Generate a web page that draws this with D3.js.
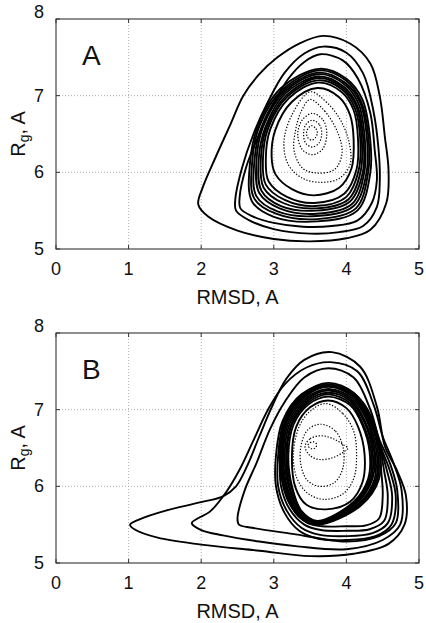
<!DOCTYPE html>
<html>
<head>
<meta charset="utf-8">
<script src="https://cdn.jsdelivr.net/npm/d3@7"></script>
<style>
  body { margin: 0; background: #fff; }
  text { font-family: "Liberation Sans", Arial, sans-serif; fill: #111; }
</style>
</head>
<body>
<div id="chart"></div>
<script>
// axis ticks
const xTicks = [0, 1, 2, 3, 4, 5];
const yTicks = [5, 6, 7, 8];
const gridX = [1, 2, 3, 4];
const gridY = [6, 7];

// panel A : contours, [RMSD, Rg]
const aOuter = [
  [[3.68,7.78],[4.05,7.68],[4.33,7.42],[4.46,6.99],[4.53,6.46],[4.58,6.03],[4.55,5.6],[4.33,5.25],[4.0,5.14],[3.5,5.1],[3.0,5.13],[2.5,5.24],[2.1,5.42],[1.96,5.58],[2.02,5.8],[2.2,6.2],[2.4,6.62],[2.58,7.0],[2.8,7.28],[3.05,7.5],[3.35,7.68]],
  [[3.68,7.64],[4.0,7.56],[4.23,7.29],[4.37,6.81],[4.44,6.33],[4.46,5.9],[4.42,5.55],[4.23,5.3],[3.9,5.22],[3.5,5.2],[3.0,5.26],[2.65,5.38],[2.48,5.5],[2.47,5.65],[2.56,6.05],[2.72,6.5],[2.92,6.92],[3.15,7.3],[3.42,7.55]],
  [[3.64,7.54],[3.95,7.46],[4.16,7.22],[4.33,6.77],[4.39,6.29],[4.42,5.9],[4.35,5.6],[4.15,5.37],[3.8,5.3],[3.4,5.29],[3.0,5.34],[2.7,5.43],[2.54,5.53],[2.53,5.68],[2.62,6.07],[2.8,6.5],[3.0,6.9],[3.2,7.22],[3.42,7.44]]
];
const aBundle = [
  [[3.63,7.35],[4.0,7.22],[4.22,6.95],[4.32,6.5],[4.33,6.0],[4.15,5.5],[3.6,5.36],[3.0,5.42],[2.7,5.62],[2.67,6.1],[2.78,6.6],[3.1,7.1]],
  [[3.63,7.33],[3.99,7.2],[4.2,6.93],[4.3,6.49],[4.3,6.0],[4.13,5.53],[3.6,5.39],[3.03,5.46],[2.73,5.66],[2.7,6.11],[2.8,6.6],[3.12,7.08]],
  [[3.62,7.3],[3.98,7.17],[4.19,6.91],[4.28,6.48],[4.28,6.01],[4.1,5.56],[3.59,5.43],[3.05,5.49],[2.76,5.69],[2.73,6.12],[2.83,6.59],[3.13,7.06]],
  [[3.62,7.28],[3.97,7.15],[4.17,6.89],[4.25,6.48],[4.25,6.02],[4.08,5.59],[3.59,5.46],[3.08,5.53],[2.8,5.73],[2.76,6.13],[2.85,6.59],[3.15,7.05]],
  [[3.62,7.25],[3.96,7.12],[4.15,6.87],[4.23,6.47],[4.23,6.02],[4.05,5.62],[3.58,5.5],[3.1,5.56],[2.83,5.76],[2.79,6.14],[2.88,6.58],[3.16,7.03]],
  [[3.62,7.23],[3.95,7.1],[4.14,6.85],[4.21,6.46],[4.2,6.03],[4.03,5.65],[3.58,5.53],[3.13,5.6],[2.86,5.8],[2.82,6.15],[2.9,6.58],[3.18,7.01]],
  [[3.61,7.2],[3.94,7.08],[4.12,6.83],[4.19,6.45],[4.17,6.03],[4.0,5.68],[3.57,5.56],[3.15,5.64],[2.89,5.84],[2.85,6.16],[2.92,6.57],[3.19,6.99]],
  [[3.61,7.17],[3.93,7.05],[4.1,6.81],[4.16,6.44],[4.14,6.04],[3.97,5.72],[3.56,5.6],[3.18,5.68],[2.93,5.88],[2.89,6.17],[2.95,6.56],[3.21,6.97]],
  [[3.6,7.1],[3.9,6.98],[4.05,6.75],[4.1,6.42],[4.07,6.05],[3.9,5.8],[3.55,5.7],[3.25,5.78],[3.02,5.98],[2.97,6.2],[3.02,6.55],[3.25,6.92]]
];
const aDotted = [
  [[3.5,7.05],[3.72,6.92],[3.92,6.68],[4.04,6.38],[4.05,6.1],[3.9,5.92],[3.65,5.87],[3.4,5.92],[3.2,6.1],[3.14,6.4],[3.25,6.75]],
  [[3.5,6.95],[3.7,6.8],[3.88,6.52],[3.94,6.25],[3.84,6.04],[3.6,5.99],[3.4,6.05],[3.28,6.28],[3.3,6.55],[3.38,6.8]],
  [[3.53,6.77],[3.68,6.68],[3.73,6.5],[3.67,6.3],[3.53,6.23],[3.39,6.3],[3.33,6.5],[3.39,6.68]],
  [[3.53,6.68],[3.63,6.62],[3.66,6.5],[3.62,6.38],[3.53,6.33],[3.44,6.38],[3.41,6.5],[3.44,6.62]],
  [[3.52,6.61],[3.58,6.57],[3.6,6.51],[3.57,6.45],[3.52,6.42],[3.47,6.45],[3.45,6.51],[3.47,6.57]]
];

// panel B
const bOuter = [
  [[3.8,7.75],[4.19,7.56],[4.42,7.04],[4.53,6.52],[4.7,6.2],[4.82,5.88],[4.8,5.5],[4.58,5.25],[4.1,5.12],[3.5,5.09],[2.8,5.16],[2.0,5.24],[1.4,5.33],[1.08,5.44],[1.02,5.5],[1.15,5.57],[1.5,5.68],[1.98,5.79],[2.3,5.87],[2.48,6.0],[2.63,6.26],[2.8,6.65],[2.98,7.05],[3.17,7.4],[3.42,7.65]],
  [[3.78,7.62],[4.15,7.5],[4.38,7.05],[4.5,6.65],[4.65,6.3],[4.76,5.95],[4.74,5.5],[4.5,5.3],[4.0,5.18],[3.3,5.22],[2.8,5.28],[2.3,5.36],[2.0,5.43],[1.87,5.52],[1.95,5.58],[2.12,5.67],[2.34,5.92],[2.53,6.22],[2.72,6.6],[2.92,7.0],[3.15,7.33],[3.45,7.55]],
  [[3.75,7.54],[4.1,7.42],[4.33,7.0],[4.45,6.62],[4.6,6.3],[4.7,5.95],[4.68,5.52],[4.45,5.35],[4.0,5.28],[3.26,5.38],[2.7,5.46],[2.52,5.5],[2.5,5.58],[2.6,5.95],[2.76,6.3],[2.95,6.75],[3.15,7.1],[3.42,7.42]]
];
const bRings = [
  [[3.75,7.33],[4.12,7.2],[4.35,6.9],[4.48,6.5],[4.6,6.2],[4.68,5.87],[4.62,5.5],[4.4,5.35],[4.0,5.3],[3.6,5.32],[3.35,5.42],[3.15,5.65],[3.03,6.0],[3.03,6.4],[3.12,6.85],[3.38,7.2]],
  [[3.75,7.32],[4.11,7.19],[4.34,6.88],[4.47,6.5],[4.56,6.2],[4.63,5.87],[4.57,5.52],[4.36,5.39],[4.0,5.35],[3.62,5.37],[3.38,5.46],[3.18,5.68],[3.06,6.0],[3.06,6.4],[3.14,6.85],[3.39,7.19]],
  [[3.75,7.31],[4.1,7.18],[4.33,6.87],[4.46,6.5],[4.52,6.2],[4.57,5.87],[4.52,5.55],[4.32,5.44],[4.0,5.42],[3.65,5.43],[3.42,5.5],[3.22,5.7],[3.1,6.0],[3.09,6.4],[3.16,6.85],[3.4,7.18]],
  [[3.75,7.3],[4.09,7.17],[4.31,6.86],[4.45,6.5],[4.48,6.2],[4.5,5.87],[4.45,5.58],[4.27,5.49],[4.0,5.48],[3.66,5.48],[3.45,5.53],[3.25,5.72],[3.13,6.0],[3.12,6.4],[3.18,6.85],[3.41,7.17]]
];
const bBundle = [
  [[3.75,7.35],[4.1,7.22],[4.32,6.9],[4.45,6.5],[4.45,6.1],[4.2,5.75],[3.6,5.5],[3.35,5.6],[3.15,5.95],[3.08,6.4],[3.15,6.85],[3.4,7.2]],
  [[3.75,7.32],[4.09,7.2],[4.31,6.89],[4.43,6.49],[4.43,6.1],[4.19,5.76],[3.6,5.51],[3.35,5.61],[3.16,5.96],[3.1,6.4],[3.17,6.84],[3.41,7.18]],
  [[3.75,7.3],[4.09,7.17],[4.29,6.87],[4.41,6.49],[4.41,6.1],[4.17,5.76],[3.6,5.51],[3.36,5.62],[3.18,5.96],[3.11,6.4],[3.18,6.84],[3.42,7.16]],
  [[3.75,7.27],[4.08,7.15],[4.28,6.86],[4.39,6.48],[4.39,6.1],[4.16,5.77],[3.6,5.52],[3.36,5.63],[3.19,5.97],[3.13,6.4],[3.2,6.83],[3.43,7.14]],
  [[3.75,7.25],[4.07,7.13],[4.26,6.84],[4.38,6.47],[4.36,6.1],[4.14,5.78],[3.6,5.53],[3.37,5.65],[3.21,5.98],[3.15,6.4],[3.22,6.82],[3.45,7.13]],
  [[3.75,7.22],[4.06,7.11],[4.25,6.83],[4.36,6.46],[4.34,6.1],[4.13,5.79],[3.6,5.54],[3.37,5.66],[3.22,5.99],[3.17,6.4],[3.24,6.81],[3.46,7.11]],
  [[3.75,7.2],[4.06,7.08],[4.23,6.81],[4.34,6.46],[4.32,6.1],[4.11,5.79],[3.6,5.54],[3.38,5.67],[3.24,6.0],[3.18,6.4],[3.25,6.81],[3.47,7.09]],
  [[3.75,7.17],[4.05,7.06],[4.22,6.8],[4.32,6.45],[4.3,6.1],[4.1,5.8],[3.6,5.55],[3.38,5.68],[3.25,6.0],[3.2,6.4],[3.27,6.8],[3.48,7.07]],
  [[3.75,7.12],[4.0,7.02],[4.16,6.78],[4.25,6.42],[4.22,6.05],[4.05,5.8],[3.72,5.7],[3.45,5.76],[3.3,5.98],[3.25,6.4],[3.31,6.78],[3.5,7.03]]
];
const bDotted = [
  [[3.72,7.08],[3.95,6.95],[4.1,6.72],[4.14,6.42],[4.1,6.1],[3.95,5.9],[3.7,5.83],[3.48,5.9],[3.32,6.1],[3.27,6.42],[3.35,6.78],[3.5,6.98]],
  [[3.65,6.81],[3.85,6.72],[3.96,6.48],[3.94,6.2],[3.82,6.04],[3.63,6.0],[3.46,6.08],[3.37,6.3],[3.38,6.55],[3.47,6.74]],
  [[3.43,6.52],[3.5,6.62],[3.65,6.66],[3.82,6.62],[3.96,6.54],[4.02,6.5],[3.95,6.44],[3.8,6.37],[3.63,6.35],[3.5,6.4]],
  [[3.47,6.53],[3.5,6.57],[3.55,6.58],[3.59,6.55],[3.57,6.5],[3.52,6.49]]
];

const panels = [
  {label: "A", top: 19, solid: [aOuter, aBundle], dotted: aDotted},
  {label: "B", top: 333, solid: [bOuter, bRings, bBundle], dotted: bDotted}
];

const W = 426, H = 623;
const left = 56, right = 419, ph = 230;

const svg = d3.select("#chart").append("svg")
    .attr("width", W)
    .attr("height", H);

panels.forEach(p => {
    const x = d3.scaleLinear().domain([0, 5]).range([left, right]);
    const y = d3.scaleLinear().domain([5, 8]).range([p.top + ph, p.top]);
    const g = svg.append("g");

    // grille pointillée
    g.selectAll(".gx").data(gridX).enter().append("line")
        .attr("x1", d => x(d)).attr("x2", d => x(d))
        .attr("y1", p.top).attr("y2", p.top + ph)
        .attr("stroke", "#9a9a9a").attr("stroke-width", 0.8)
        .attr("stroke-dasharray", "1,2");
    g.selectAll(".gy").data(gridY).enter().append("line")
        .attr("x1", left).attr("x2", right)
        .attr("y1", d => y(d)).attr("y2", d => y(d))
        .attr("stroke", "#9a9a9a").attr("stroke-width", 0.8)
        .attr("stroke-dasharray", "1,2");

    const line = d3.line()
        .x(d => x(d[0]))
        .y(d => y(d[1]))
        .curve(d3.curveCatmullRomClosed.alpha(0.5));

    p.solid.forEach(set => {
        g.append("g").selectAll("path").data(set).enter().append("path")
            .attr("d", line)
            .attr("fill", "none")
            .attr("stroke", "#000")
            .attr("stroke-width", 1.9);
    });
    g.append("g").selectAll("path").data(p.dotted).enter().append("path")
        .attr("d", line)
        .attr("fill", "none")
        .attr("stroke", "#000")
        .attr("stroke-width", 1.2)
        .attr("stroke-dasharray", "1.3,1.7");

    // cadre
    g.append("rect")
        .attr("x", left).attr("y", p.top)
        .attr("width", right - left).attr("height", ph)
        .attr("fill", "none").attr("stroke", "#333").attr("stroke-width", 1.1);

    // petits ticks intérieurs
    g.selectAll(".tb").data(xTicks).enter().append("line")
        .attr("x1", d => x(d)).attr("x2", d => x(d))
        .attr("y1", p.top + ph).attr("y2", p.top + ph - 4)
        .attr("stroke", "#333");
    g.selectAll(".tt").data(xTicks).enter().append("line")
        .attr("x1", d => x(d)).attr("x2", d => x(d))
        .attr("y1", p.top).attr("y2", p.top + 4)
        .attr("stroke", "#333");
    g.selectAll(".tl").data(yTicks).enter().append("line")
        .attr("x1", left).attr("x2", left + 4)
        .attr("y1", d => y(d)).attr("y2", d => y(d))
        .attr("stroke", "#333");
    g.selectAll(".tr").data(yTicks).enter().append("line")
        .attr("x1", right).attr("x2", right - 4)
        .attr("y1", d => y(d)).attr("y2", d => y(d))
        .attr("stroke", "#333");

    // étiquettes
    g.selectAll(".xl").data(xTicks).enter().append("text")
        .attr("x", d => x(d)).attr("y", p.top + ph + 26)
        .attr("text-anchor", "middle")
        .attr("font-size", 18)
        .text(d => d);
    g.selectAll(".yl").data(yTicks).enter().append("text")
        .attr("x", left - 12).attr("y", d => y(d) + (d === 8 ? -1 : 6))
        .attr("text-anchor", "end")
        .attr("font-size", 18)
        .text(d => d);

    g.append("text")
        .attr("x", (left + right) / 2).attr("y", p.top + ph + 55)
        .attr("text-anchor", "middle")
        .attr("font-size", 20)
        .text("RMSD, A");

    const yl = g.append("text")
        .attr("transform", `translate(25,${p.top + ph / 2}) rotate(-90)`)
        .attr("text-anchor", "middle")
        .attr("font-size", 20);
    yl.append("tspan").text("R");
    yl.append("tspan").attr("font-size", 14).attr("dy", 4).text("g");
    yl.append("tspan").attr("dy", -4).text(", A");

    g.append("text")
        .attr("x", 82).attr("y", p.top + 46)
        .attr("font-size", 28)
        .text(p.label);
});
</script>
</body>
</html>
